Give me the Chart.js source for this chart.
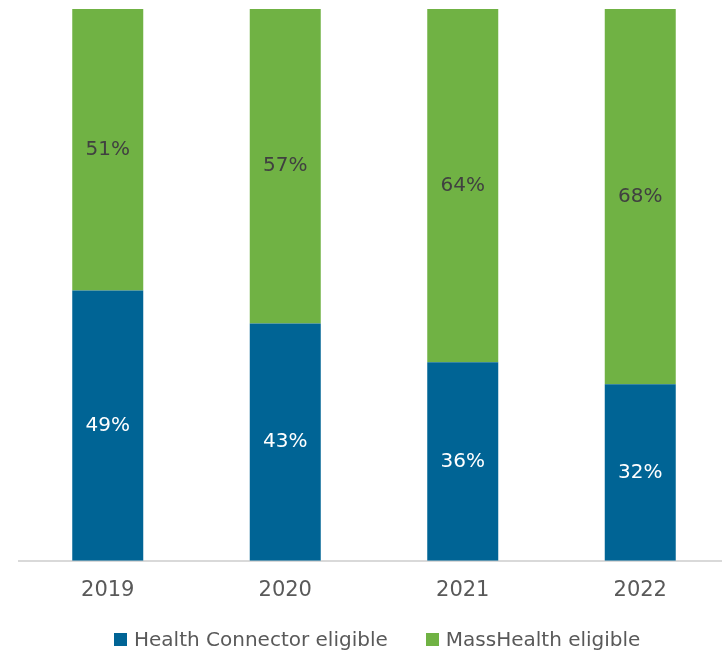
<!DOCTYPE html>
<html lang="en">
<head>
    <meta charset="UTF-8">
    <title>Eligibility share by year</title>
    <script src="https://cdn.jsdelivr.net/npm/chart.js"></script>
    <style>
        body {
            margin: 0;
            padding: 0;
            overflow: hidden;
            background: #fff;
            font-family: "DejaVu Sans", sans-serif;
        }
        .wrap {
            position: relative;
            width: 722px;
            height: 651px;
            overflow: hidden;
        }
        canvas {
            position: absolute;
            left: 0;
            top: 0;
        }
        #legend {
            position: absolute;
            left: 114px;
            top: 627px;
            display: flex;
            gap: 38px;
            font-size: 20px;
            line-height: 24px;
            color: #595959;
            white-space: nowrap;
        }
        #legend .item {
            display: flex;
            align-items: center;
        }
        #legend .box {
            width: 13px;
            height: 13px;
            margin-right: 7px;
        }
    </style>
</head>
<body>
    <div class="wrap">
        <canvas id="shareChart" width="740" height="631"></canvas>
        <div id="legend"></div>
    </div>

    <script>
        const years = ['2019', '2020', '2021', '2022'];
        const healthConnector = [49, 43, 36, 32];
        const massHealth = [51, 57, 64, 68];

        const seriesNames = ['Health Connector eligible', 'MassHealth eligible'];
        const seriesColors = ['#006495', '#70b244'];
        const labelColors = ['#ffffff', '#404040'];

        // draws the percentage inside each bar segment
        const segmentLabels = {
            id: 'segmentLabels',
            afterDatasetsDraw(chart) {
                const ctx = chart.ctx;
                ctx.save();
                ctx.font = '20px "DejaVu Sans"';
                ctx.textAlign = 'center';
                ctx.textBaseline = 'middle';
                chart.data.datasets.forEach((ds, i) => {
                    const meta = chart.getDatasetMeta(i);
                    meta.data.forEach((bar, j) => {
                        const p = bar.getProps(['x', 'y', 'base'], true);
                        ctx.fillStyle = labelColors[i];
                        ctx.fillText(ds.data[j] + '%', p.x, (p.y + p.base) / 2);
                    });
                });
                ctx.restore();
            }
        };

        const chart = new Chart(document.getElementById('shareChart'), {
            type: 'bar',
            data: {
                labels: years,
                datasets: [
                    { label: seriesNames[0], data: healthConnector, backgroundColor: seriesColors[0], categoryPercentage: 0.4, barPercentage: 1 },
                    { label: seriesNames[1], data: massHealth, backgroundColor: seriesColors[1], categoryPercentage: 0.4, barPercentage: 1 }
                ]
            },
            options: {
                responsive: false,
                animation: false,
                layout: {
                    padding: { left: 19, right: 11, top: 9, bottom: 11 }
                },
                plugins: {
                    legend: { display: false },
                    tooltip: { enabled: false }
                },
                scales: {
                    x: {
                        stacked: true,
                        grid: { display: false, drawTicks: false },
                        border: { display: true, color: '#d9d9d9', width: 2 },
                        ticks: {
                            color: '#595959',
                            font: { family: 'DejaVu Sans', size: 21 },
                            padding: 17
                        }
                    },
                    y: {
                        stacked: true,
                        display: false,
                        min: 0,
                        max: 100
                    }
                }
            },
            plugins: [segmentLabels]
        });

        // legend built from the chart's datasets
        const legend = document.getElementById('legend');
        chart.data.datasets.forEach(ds => {
            const item = document.createElement('div');
            item.className = 'item';
            const box = document.createElement('span');
            box.className = 'box';
            box.style.background = ds.backgroundColor;
            const text = document.createElement('span');
            text.textContent = ds.label;
            item.appendChild(box);
            item.appendChild(text);
            legend.appendChild(item);
        });
    </script>
</body>
</html>
